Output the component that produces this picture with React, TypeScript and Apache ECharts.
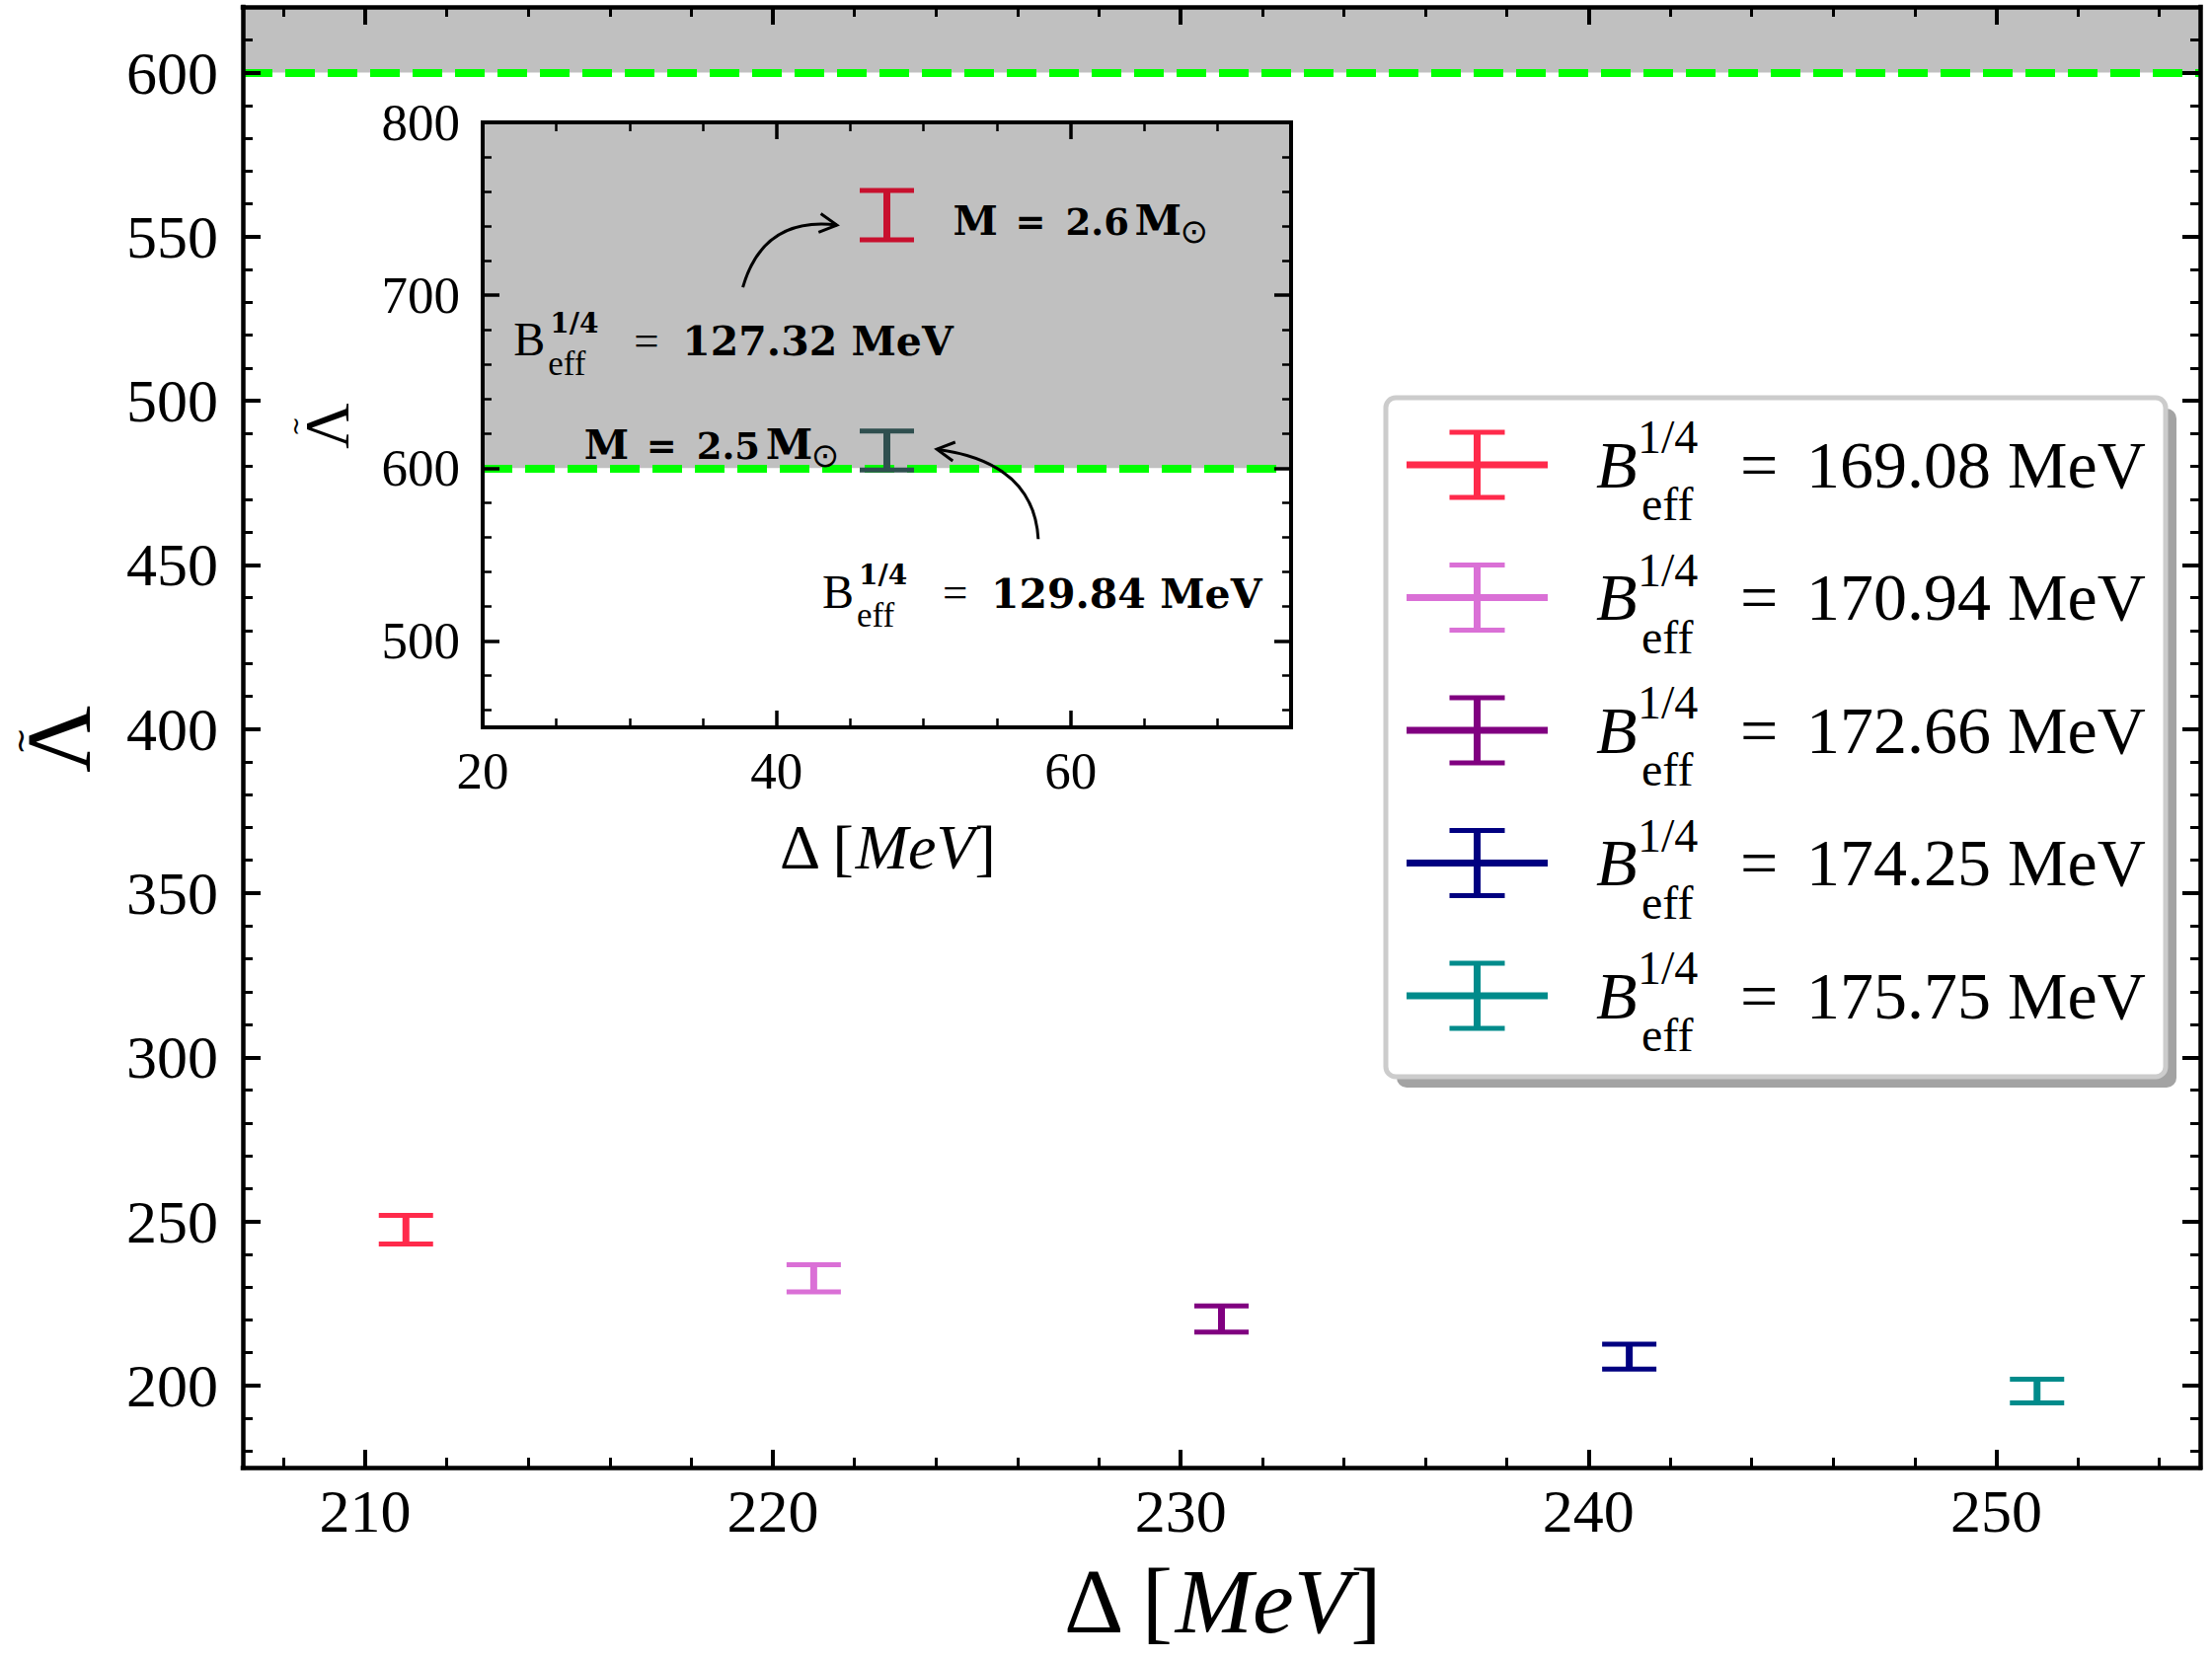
import React, { useEffect, useRef } from "react";
import * as echarts from "echarts";

const W = 2241;
const H = 1681;
const SERIF = "Liberation Serif, Times New Roman, serif";
const BOLD_SERIF = "DejaVu Serif, serif";
const SYMBOL_FONT = "DejaVu Sans, sans-serif";

// ---------------- main panel data ----------------
const bEffLabels = ["169.08", "170.94", "172.66", "174.25", "175.75"];
const bEffColors = ["#ff2a4b", "#da70d6", "#800080", "#000080", "#008b8b"];
const deltaMain = [211, 221, 231, 241, 251];
const lambdaMainLow = [243.1, 228.5, 216.3, 205.0, 194.7];
const lambdaMainHigh = [251.8, 236.8, 224.2, 212.6, 201.9];

const mainXMin = 207;
const mainXMax = 255;
const mainYMin = 175;
const mainYMax = 620;
const mainXMajor = [210, 220, 230, 240, 250];
const mainXMinor = [208, 212, 214, 216, 218, 222, 224, 226, 228, 232, 234, 236, 238, 242, 244, 246, 248, 252, 254];
const mainYMajor = [200, 250, 300, 350, 400, 450, 500, 550, 600];
const mainYMinor = [
  180, 190, 210, 220, 230, 240, 260, 270, 280, 290, 310, 320, 330, 340, 360, 370, 380, 390,
  410, 420, 430, 440, 460, 470, 480, 490, 510, 520, 530, 540, 560, 570, 580, 590, 610,
];

const lambdaBound = 600;

// ---------------- inset data ----------------
const insetBEff = ["127.32", "129.84"];
const insetMass = ["2.6", "2.5"];
const insetColors = ["#c8102e", "#2f4f4f"];
const deltaInset = [47.5, 47.5];
const lambdaInsetLow = [732.0, 598.9];
const lambdaInsetHigh = [760.6, 621.4];

const insetXMin = 20;
const insetXMax = 75;
const insetYMin = 450;
const insetYMax = 800;
const insetXMajor = [20, 40, 60];
const insetXMinor = [25, 30, 35, 45, 50, 55, 65, 70];
const insetYMajor = [500, 600, 700, 800];
const insetYMinor = [460, 480, 520, 540, 560, 580, 620, 640, 660, 680, 720, 740, 760, 780];

// annotation anchors (inset data coordinates: left edge / baseline)
const massLabelAt = [
  [52.0, 735.1],
  [26.9, 605.4],
];
const bLabelAt = [
  [22.1, 665.1],
  [43.1, 519.4],
];
const arrowFrom = [
  [37.7, 704.6],
  [57.8, 558.9],
];
const arrowVia = [
  [39.1, 745.7],
  [57.5, 603.4],
];
const arrowTo = [
  [44.1, 740.6],
  [50.9, 610.9],
];

// ---------------- layout ----------------
const MAIN_GRID = { left: 246, top: 7, width: 1983, height: 1480 };
const INSET_GRID = { left: 489, top: 124, width: 819, height: 613 };
const LEGEND_BOX = { x: 1404, y: 403, w: 790, h: 688 };
const LEGEND_ROW0 = 471;
const LEGEND_STEP = 134.5;

function makeAxis(s: any) {
  const a: any = {
    type: "value",
    gridIndex: s.grid,
    min: s.min,
    max: s.max,
    position: s.pos,
    z: 8,
    axisLine: {
      show: s.line > 0,
      onZero: false,
      lineStyle: { color: "#000", width: s.line || 1, cap: "square" },
    },
    axisTick: {
      show: true,
      inside: true,
      length: s.len,
      customValues: s.ticks,
      lineStyle: { color: "#000", width: s.tw },
    },
    axisLabel: s.labels
      ? {
          show: true,
          customValues: s.ticks,
          fontSize: s.labels.size,
          fontFamily: SERIF,
          color: "#000",
          margin: s.labels.margin,
        }
      : { show: false },
    splitLine: { show: false },
    minorTick: { show: false },
    minorSplitLine: { show: false },
  };
  if (s.extra) Object.assign(a, s.extra);
  return a;
}

function errorBar(color: string, capHalf: number) {
  return (params: any, api: any) => {
    const x = api.value(0);
    const lo = api.value(1);
    const hi = api.value(2);
    const pLo = api.coord([x, lo]);
    const pHi = api.coord([x, hi]);
    return {
      type: "group",
      children: [
        {
          type: "line",
          shape: { x1: pLo[0], y1: pLo[1], x2: pHi[0], y2: pHi[1] },
          style: { stroke: color, lineWidth: 7 },
        },
        {
          type: "line",
          shape: { x1: pLo[0] - capHalf, y1: pLo[1], x2: pLo[0] + capHalf, y2: pLo[1] },
          style: { stroke: color, lineWidth: 5 },
        },
        {
          type: "line",
          shape: { x1: pHi[0] - capHalf, y1: pHi[1], x2: pHi[0] + capHalf, y2: pHi[1] },
          style: { stroke: color, lineWidth: 5 },
        },
      ],
    };
  };
}

function axisTitleName(size: number, gap: number) {
  return {
    name: "{d|Δ [}{i|MeV}{d|]}",
    nameLocation: "middle",
    nameGap: gap,
    nameTextStyle: {
      fontSize: size,
      fontFamily: SERIF,
      color: "#000",
      rich: {
        d: { fontSize: size, fontFamily: SERIF, color: "#000" },
        i: { fontSize: size, fontFamily: SERIF, fontStyle: "italic", color: "#000" },
      },
    },
  };
}

function buildOption() {
  const xAxis = [
    // main
    makeAxis({ grid: 0, min: mainXMin, max: mainXMax, pos: "bottom", ticks: mainXMajor, len: 18, tw: 4, line: 4.5, labels: { size: 62, margin: 13 }, extra: axisTitleName(94, 88) }),
    makeAxis({ grid: 0, min: mainXMin, max: mainXMax, pos: "bottom", ticks: mainXMinor, len: 10, tw: 3, line: 0 }),
    makeAxis({ grid: 0, min: mainXMin, max: mainXMax, pos: "top", ticks: mainXMajor, len: 18, tw: 4, line: 4.5 }),
    makeAxis({ grid: 0, min: mainXMin, max: mainXMax, pos: "top", ticks: mainXMinor, len: 10, tw: 3, line: 0 }),
    // inset
    makeAxis({ grid: 1, min: insetXMin, max: insetXMax, pos: "bottom", ticks: insetXMajor, len: 17, tw: 3.5, line: 4, labels: { size: 53, margin: 17 }, extra: axisTitleName(64, 89) }),
    makeAxis({ grid: 1, min: insetXMin, max: insetXMax, pos: "bottom", ticks: insetXMinor, len: 9, tw: 2.5, line: 0 }),
    makeAxis({ grid: 1, min: insetXMin, max: insetXMax, pos: "top", ticks: insetXMajor, len: 17, tw: 3.5, line: 4 }),
    makeAxis({ grid: 1, min: insetXMin, max: insetXMax, pos: "top", ticks: insetXMinor, len: 9, tw: 2.5, line: 0 }),
  ];
  const yAxis = [
    makeAxis({ grid: 0, min: mainYMin, max: mainYMax, pos: "left", ticks: mainYMajor, len: 18, tw: 4, line: 4.5, labels: { size: 62, margin: 25 } }),
    makeAxis({ grid: 0, min: mainYMin, max: mainYMax, pos: "left", ticks: mainYMinor, len: 10, tw: 3, line: 0 }),
    makeAxis({ grid: 0, min: mainYMin, max: mainYMax, pos: "right", ticks: mainYMajor, len: 18, tw: 4, line: 4.5 }),
    makeAxis({ grid: 0, min: mainYMin, max: mainYMax, pos: "right", ticks: mainYMinor, len: 10, tw: 3, line: 0 }),
    makeAxis({ grid: 1, min: insetYMin, max: insetYMax, pos: "left", ticks: insetYMajor, len: 17, tw: 3.5, line: 4, labels: { size: 53, margin: 23 } }),
    makeAxis({ grid: 1, min: insetYMin, max: insetYMax, pos: "left", ticks: insetYMinor, len: 9, tw: 2.5, line: 0 }),
    makeAxis({ grid: 1, min: insetYMin, max: insetYMax, pos: "right", ticks: insetYMajor, len: 17, tw: 3.5, line: 4 }),
    makeAxis({ grid: 1, min: insetYMin, max: insetYMax, pos: "right", ticks: insetYMinor, len: 9, tw: 2.5, line: 0 }),
  ];

  const boundSeries = (xi: number, yi: number, top: number) => ({
    type: "line",
    name: "bound",
    xAxisIndex: xi,
    yAxisIndex: yi,
    data: [],
    silent: true,
    z: 1,
    markArea: {
      silent: true,
      z: 1,
      itemStyle: { color: "#c0c0c0", opacity: 1, borderWidth: 0 },
      data: [[{ yAxis: lambdaBound }, { yAxis: top }]],
    },
    markLine: {
      silent: true,
      z: 5,
      symbol: ["none", "none"],
      label: { show: false },
      lineStyle: { color: "#00ff00", width: 8, type: [30, 13], opacity: 1 },
      data: [{ yAxis: lambdaBound }],
    },
  });

  const mainSeries = bEffLabels.map((lab, i) => ({
    type: "custom",
    name: `B_eff^(1/4) = ${lab} MeV`,
    xAxisIndex: 0,
    yAxisIndex: 0,
    silent: true,
    z: 10,
    encode: { x: 0, y: [1, 2] },
    data: [[deltaMain[i], lambdaMainLow[i], lambdaMainHigh[i]]],
    renderItem: errorBar(bEffColors[i], 27.5),
  }));

  const insetSeries = insetBEff.map((lab, i) => ({
    type: "custom",
    name: `B_eff^(1/4) = ${lab} MeV, M = ${insetMass[i]} Msun`,
    xAxisIndex: 4,
    yAxisIndex: 4,
    silent: true,
    z: 10,
    encode: { x: 0, y: [1, 2] },
    data: [[deltaInset[i], lambdaInsetLow[i], lambdaInsetHigh[i]]],
    renderItem: errorBar(insetColors[i], 27.5),
  }));

  return {
    animation: false,
    backgroundColor: "#ffffff",
    grid: [
      { ...MAIN_GRID, containLabel: false },
      { ...INSET_GRID, containLabel: false, show: true, backgroundColor: "#ffffff", borderWidth: 0 },
    ],
    xAxis,
    yAxis,
    series: [boundSeries(0, 0, mainYMax), ...mainSeries, boundSeries(4, 4, insetYMax), ...insetSeries],
  };
}

function piece(x: number, baseline: number, text: string, size: number, family: string, opts: any = {}) {
  return {
    type: "text",
    silent: true,
    z: opts.z ?? 60,
    x,
    y: baseline - 0.34 * size,
    style: {
      text,
      fontSize: size,
      fontFamily: family,
      fontWeight: opts.weight || "normal",
      fontStyle: opts.italic ? "italic" : "normal",
      fill: "#000",
      textAlign: "left",
      textVerticalAlign: "middle",
      align: "left",
      verticalAlign: "middle",
    },
  };
}

function centered(x: number, y: number, text: string, size: number, family: string, rotation = 0, lineHeight?: number) {
  const style: any = {
    text,
    fontSize: size,
    fontFamily: family,
    fill: "#000",
    textAlign: "center",
    textVerticalAlign: "middle",
    align: "center",
    verticalAlign: "middle",
  };
  if (lineHeight) style.lineHeight = lineHeight;
  return { type: "text", silent: true, z: 60, x, y, rotation, style };
}

function seg(x1: number, y1: number, x2: number, y2: number, color: string, w: number, z = 101) {
  return {
    type: "line",
    silent: true,
    z,
    shape: { x1, y1, x2, y2 },
    style: { stroke: color, lineWidth: w },
  };
}

function buildGraphic(chart: any) {
  const els: any[] = [];

  // y-axis titles (Lambda tilde)
  els.push(centered(58.5, 749, "Λ", 94, SERIF, Math.PI / 2));
  els.push(centered(20, 751, "~", 33, SYMBOL_FONT, Math.PI / 2, 16));
  els.push(centered(331, 431.5, "Λ", 64, SERIF, Math.PI / 2));
  els.push(centered(299.5, 432, "~", 24, SYMBOL_FONT, Math.PI / 2, 12));

  // inset annotations
  const P = (p: number[]) => chart.convertToPixel({ xAxisIndex: 4, yAxisIndex: 4 }, p) as number[];
  insetMass.forEach((m, i) => {
    const [ax, ay] = P(massLabelAt[i]);
    els.push(piece(ax, ay, "M", 41, BOLD_SERIF, { weight: "bold" }));
    els.push(piece(ax + 63, ay, "=", 37, BOLD_SERIF, { weight: "bold" }));
    els.push(piece(ax + 114, ay, m, 37, BOLD_SERIF, { weight: "bold" }));
    els.push(piece(ax + 184, ay, "M", 43, BOLD_SERIF, { weight: "bold" }));
    els.push({
      type: "text",
      silent: true,
      z: 60,
      x: ax + 230,
      y: ay - 4,
      style: {
        text: "⊙",
        fontSize: 34,
        fontFamily: SYMBOL_FONT,
        fill: "#000",
        textAlign: "left",
        textVerticalAlign: "middle",
        align: "left",
        verticalAlign: "middle",
      },
    });
  });
  insetBEff.forEach((b, i) => {
    const [ax, ay] = P(bLabelAt[i]);
    els.push(piece(ax, ay, "B", 48, SERIF));
    els.push(piece(ax + 37, ay - 23, "1/4", 28, BOLD_SERIF, { weight: "bold" }));
    els.push(piece(ax + 35, ay + 20, "eff", 35, SERIF));
    els.push(piece(ax + 122, ay, "=", 45, SERIF));
    els.push(piece(ax + 171, ay, `${b} MeV`, 41, BOLD_SERIF, { weight: "bold" }));
  });
  for (let i = 0; i < arrowFrom.length; i++) {
    const s = P(arrowFrom[i]);
    const c = P(arrowVia[i]);
    const e = P(arrowTo[i]);
    els.push({
      type: "bezierCurve",
      silent: true,
      z: 55,
      shape: { x1: s[0], y1: s[1], cpx1: c[0], cpy1: c[1], x2: e[0], y2: e[1] },
      style: { stroke: "#000", lineWidth: 3, fill: "none" },
    });
    const dx = e[0] - c[0];
    const dy = e[1] - c[1];
    const L = Math.hypot(dx, dy) || 1;
    const ux = dx / L;
    const uy = dy / L;
    const hl = 20;
    const head = (ang: number) => [
      e[0] - hl * (ux * Math.cos(ang) - uy * Math.sin(ang)),
      e[1] - hl * (uy * Math.cos(ang) + ux * Math.sin(ang)),
    ];
    els.push({
      type: "polyline",
      silent: true,
      z: 55,
      shape: { points: [head(0.5), [e[0], e[1]], head(-0.5)] },
      style: { stroke: "#000", lineWidth: 3, fill: "none" },
    });
  }

  // legend
  const b = LEGEND_BOX;
  els.push({
    type: "rect",
    silent: true,
    z: 99,
    shape: { x: b.x + 11, y: b.y + 11, width: b.w, height: b.h, r: 10 },
    style: { fill: "#a3a3a3" },
  });
  els.push({
    type: "rect",
    silent: true,
    z: 100,
    shape: { x: b.x, y: b.y, width: b.w, height: b.h, r: 10 },
    style: { fill: "#ffffff", stroke: "#cccccc", lineWidth: 5 },
  });
  bEffLabels.forEach((lab, i) => {
    const cy = LEGEND_ROW0 + i * LEGEND_STEP;
    const col = bEffColors[i];
    els.push(seg(1425, cy, 1568, cy, col, 7));
    els.push(seg(1496.5, cy - 33, 1496.5, cy + 33, col, 7));
    els.push(seg(1468.5, cy - 33, 1524.5, cy - 33, col, 5));
    els.push(seg(1468.5, cy + 33, 1524.5, cy + 33, col, 5));
    els.push(piece(1617, cy + 23, "B", 68, SERIF, { italic: true, z: 102 }));
    els.push(piece(1659, cy - 12, "1/4", 48, SERIF, { z: 102 }));
    els.push(piece(1663, cy + 56, "eff", 48, SERIF, { z: 102 }));
    els.push(piece(1763, cy + 23, "=", 68, SERIF, { z: 102 }));
    els.push(piece(1830, cy + 23, `${lab} MeV`, 68, SERIF, { z: 102 }));
  });

  return els;
}

export default function App() {
  const ref = useRef<HTMLDivElement>(null);
  useEffect(() => {
    document.body.style.margin = "0";
    const chart = echarts.init(ref.current as HTMLDivElement, null, { renderer: "svg" });
    chart.setOption(buildOption() as any);
    chart.setOption({ graphic: { elements: buildGraphic(chart) } } as any);
    return () => {
      chart.dispose();
    };
  }, []);
  return <div ref={ref} style={{ width: W, height: H }} />;
}
